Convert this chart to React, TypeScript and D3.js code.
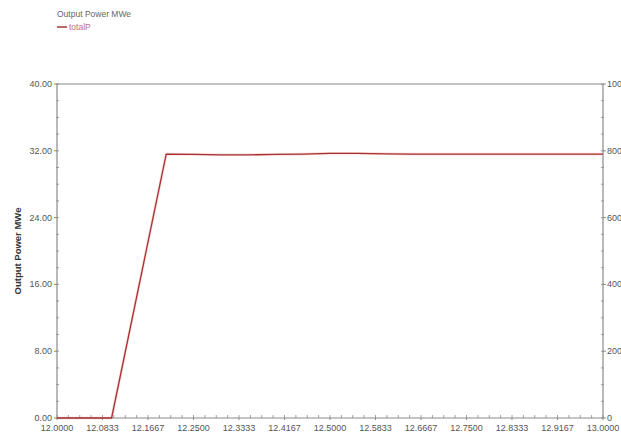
import React from "react";
import * as d3 from "d3";

const timeValues = [12.0, 12.1, 12.2, 12.25, 12.3, 12.35, 12.4, 12.45, 12.5, 12.55, 12.6, 12.65, 12.7, 12.8, 12.9, 13.0];
const powerValues = [0, 0, 31.6, 31.58, 31.52, 31.52, 31.56, 31.6, 31.7, 31.7, 31.64, 31.6, 31.6, 31.6, 31.6, 31.6];
const xTickValues = [12.0, 12.0833, 12.1667, 12.25, 12.3333, 12.4167, 12.5, 12.5833, 12.6667, 12.75, 12.8333, 12.9167, 13.0];
const yTickValues = [0, 8, 16, 24, 32, 40];
const rightTickValues = [0, 200, 400, 600, 800, 1000];
const seriesName = "totalP";
const axisTitle = "Output Power MWe";

export default function App() {
  const W = 621, H = 432;
  const L = 57, R = 603, T = 84, B = 418;
  const x = d3.scaleLinear().domain([12, 13]).range([L, R]);
  const y = d3.scaleLinear().domain([0, 40]).range([B, T]);
  const y2 = d3.scaleLinear().domain([0, 1000]).range([B, T]);
  const line = d3.line<number>().x((_, i) => x(timeValues[i])).y((d) => y(d));
  const path = line(powerValues) || "";
  const axisColor = "#8a8a8a";
  const textColor = "#555";
  const font = "Arial, 'Liberation Sans', sans-serif";

  const xMinor = d3.range(0, 49).map((i) => 12 + i / 48);
  const yMinor = d3.range(0, 21).map((i) => i * 2);
  const y2Minor = d3.range(0, 21).map((i) => i * 50);

  return (
    <svg width={W} height={H} style={{ position: "absolute", left: 0, top: 0, background: "#fff" }} fontFamily={font}>
      <rect x={0} y={0} width={W} height={H} fill="#fff" />
      {/* legend */}
      <text x={57} y={17} fontSize={8.5} fill="#666">{axisTitle}</text>
      <line x1={57} x2={67} y1={27} y2={27} stroke="#a83232" strokeWidth={1.5} />
      <text x={69} y={30} fontSize={8.5} fill="#c07070">{seriesName}</text>

      {/* frame */}
      <line x1={L} x2={R} y1={T} y2={T} stroke={axisColor} strokeWidth={1} />
      <line x1={L} x2={L} y1={T} y2={B} stroke={axisColor} strokeWidth={1.2} />
      <line x1={R} x2={R} y1={T} y2={B} stroke={axisColor} strokeWidth={1.2} />
      <line x1={L} x2={R} y1={B} y2={B} stroke={axisColor} strokeWidth={1.2} />

      {/* minor ticks */}
      {xMinor.map((v, i) => (
        <line key={"xm" + i} x1={x(v)} x2={x(v)} y1={B} y2={B - 3} stroke={axisColor} strokeWidth={0.8} />
      ))}
      {yMinor.map((v, i) => (
        <line key={"ym" + i} x1={L - 1} x2={L + 2} y1={y(v)} y2={y(v)} stroke={axisColor} strokeWidth={0.8} />
      ))}
      {y2Minor.map((v, i) => (
        <line key={"y2m" + i} x1={R - 2} x2={R + 1} y1={y2(v)} y2={y2(v)} stroke={axisColor} strokeWidth={0.8} />
      ))}

      {/* major ticks & labels */}
      {xTickValues.map((v, i) => (
        <g key={"xt" + i}>
          <line x1={x(v)} x2={x(v)} y1={B} y2={B + 2} stroke={axisColor} />
          <text x={x(v)} y={431} fontSize={9} fill={textColor} textAnchor="middle">{v.toFixed(4)}</text>
        </g>
      ))}
      {yTickValues.map((v, i) => (
        <g key={"yt" + i}>
          <line x1={L - 3} x2={L} y1={y(v)} y2={y(v)} stroke={axisColor} />
          <text x={52} y={y(v) + 3} fontSize={9} fill={textColor} textAnchor="end">{v.toFixed(2)}</text>
        </g>
      ))}
      {rightTickValues.map((v, i) => (
        <g key={"rt" + i}>
          <line x1={R} x2={R + 3} y1={y2(v)} y2={y2(v)} stroke={axisColor} />
          <text x={607} y={y2(v) + 3} fontSize={9} fill={textColor}>{v}</text>
        </g>
      ))}

      {/* axis title */}
      <text
        transform={`translate(21, ${(T + B) / 2}) rotate(-90)`}
        fontSize={9.5}
        fontWeight="bold"
        fill="#333"
        textAnchor="middle"
      >
        {axisTitle}
      </text>

      {/* series */}
      <path d={path} fill="none" stroke="#f0b0b0" strokeWidth={2.6} strokeLinejoin="round" opacity={0.5} />
      <path d={path} fill="none" stroke="#a83232" strokeWidth={1.3} strokeLinejoin="miter" />
    </svg>
  );
}
